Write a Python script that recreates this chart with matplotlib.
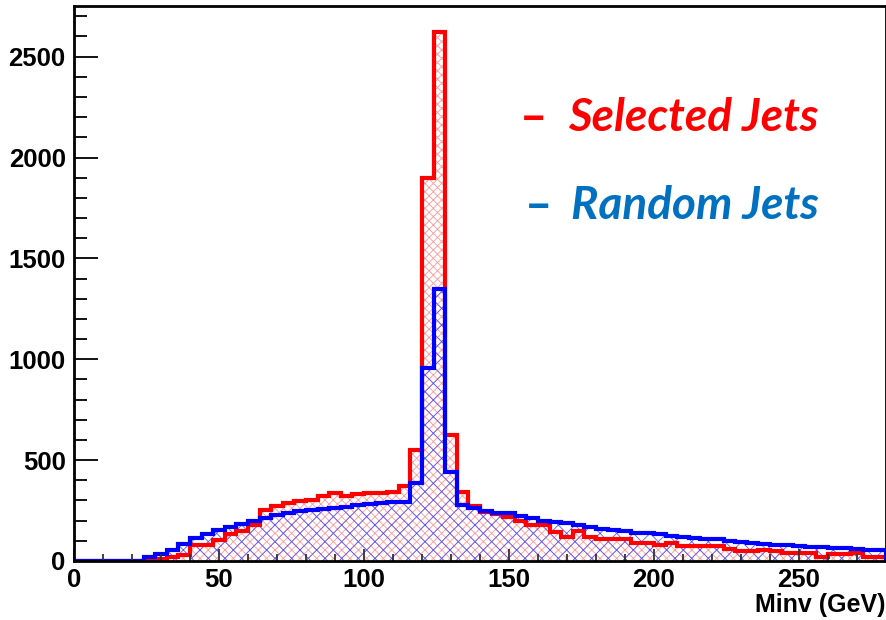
import numpy as np
import matplotlib
matplotlib.use('Agg')
import matplotlib.pyplot as plt
from matplotlib.ticker import MultipleLocator

# Histogram bins: 4 GeV wide, 0-280 GeV
bin_edges = np.arange(0, 284, 4)

selected_jets = [0, 0, 0, 0, 0, 2, 5, 12, 18, 32,
                 79, 79, 102, 135, 150, 180, 253, 273, 286, 296,
                 303, 322, 336, 322, 331, 336, 336, 341, 372, 551,
                 1897, 2621, 625, 342, 273, 245, 233, 220, 200, 179,
                 179, 145, 117, 150, 117, 107, 107, 107, 91, 91,
                 78, 87, 75, 75, 75, 75, 61, 48, 48, 55,
                 48, 42, 38, 38, 21, 35, 35, 38, 21, 21]

random_jets = [0, 0, 0, 0, 0, 0, 18, 35, 55, 82,
               112, 132, 152, 167, 182, 197, 213, 228, 240, 250,
               253, 257, 264, 270, 280, 282, 289, 293, 294, 385,
               959, 1347, 440, 280, 265, 250, 240, 240, 225, 212,
               200, 195, 190, 179, 167, 157, 154, 149, 141, 137,
               134, 124, 117, 112, 107, 107, 101, 96, 91, 84,
               79, 79, 74, 71, 68, 63, 63, 58, 55, 55]

y_ticks = [0, 500, 1000, 1500, 2000, 2500]
x_ticks = [0, 50, 100, 150, 200, 250]

plt.rcParams['font.family'] = ['Liberation Sans', 'DejaVu Sans']
plt.rcParams['hatch.linewidth'] = 0.6

W, H = 887, 620
fig = plt.figure(figsize=(W / 100, H / 100), dpi=100)
ax = fig.add_axes([74 / W, 1 - 561 / H, (886 - 74) / W, (561 - 6) / H])

# hatched fills (ROOT fill styles)
ax.stairs(selected_jets, bin_edges, fill=True, facecolor='none',
          edgecolor='#ff9a9a', hatch='xxxx', linewidth=0)
ax.stairs(random_jets, bin_edges, fill=True, facecolor='none',
          edgecolor='#5a5aff', hatch='xx', linewidth=0)
# outlines
ax.stairs(selected_jets, bin_edges, color='#ff0000', linewidth=3)
ax.stairs(random_jets, bin_edges, color='#0000ff', linewidth=3)

ax.set_xlim(0, 280)
ax.set_ylim(0, 2751)
ax.set_xticks(x_ticks)
ax.set_yticks(y_ticks)
ax.xaxis.set_minor_locator(MultipleLocator(10))
ax.yaxis.set_minor_locator(MultipleLocator(100))

ax.tick_params(axis='y', which='major', direction='in', length=17, width=1.3,
               labelsize=18.5, pad=6)
ax.tick_params(axis='y', which='minor', direction='in', length=9, width=1.3)
ax.tick_params(axis='x', which='major', direction='in', length=8.5, width=1.3,
               labelsize=18.5, pad=5, color='#333333')
ax.tick_params(axis='x', which='minor', direction='in', length=5, width=1.3,
               color='#333333')
for lbl in ax.get_xticklabels() + ax.get_yticklabels():
    lbl.set_fontweight('bold')

for s in ax.spines.values():
    s.set_linewidth(2)

fig.text(886 / W, 1 - 605 / H, 'Minv (GeV)', ha='right', va='center',
         fontsize=18, fontweight='bold')

# legend-like labels
leg_font = ['Lato', 'DejaVu Sans']
fig.text(520 / W, 1 - 118 / H, '\u2013', color='#ff0000', fontsize=34,
         fontweight='bold', ha='left', va='center', family=leg_font)
fig.text(568 / W, 1 - 118 / H, 'Selected Jets', color='#ff0000', fontsize=33,
         fontweight='bold', style='italic', ha='left', va='center',
         family=leg_font)
fig.text(525 / W, 1 - 206 / H, '\u2013', color='#0070c0', fontsize=34,
         fontweight='bold', ha='left', va='center', family=leg_font)
fig.text(571 / W, 1 - 206 / H, 'Random Jets', color='#0070c0', fontsize=33,
         fontweight='bold', style='italic', ha='left', va='center',
         family=leg_font)

fig.savefig('out.png', dpi=100)
